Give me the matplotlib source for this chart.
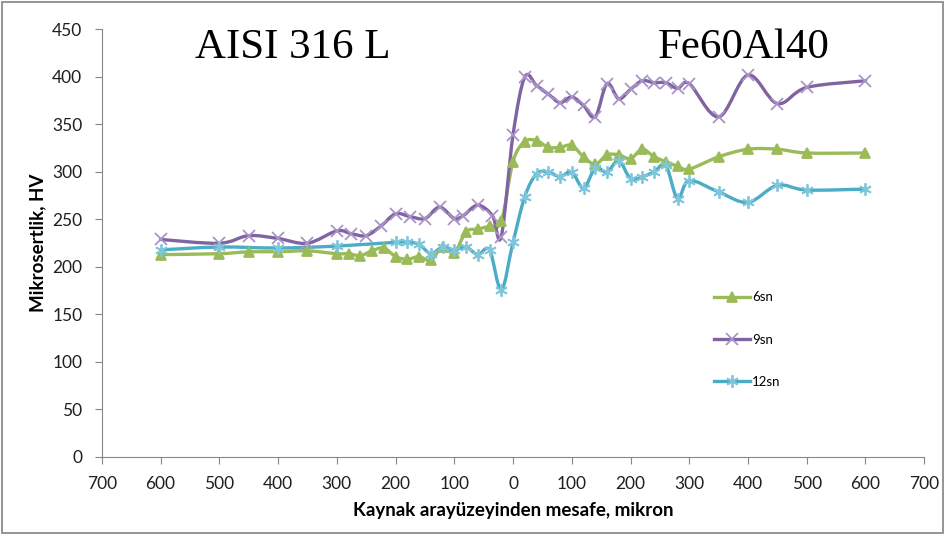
import numpy as np
import matplotlib
matplotlib.use("Agg")
import matplotlib.pyplot as plt
from matplotlib.path import Path
from matplotlib.patches import PathPatch, Rectangle
from matplotlib.lines import Line2D
from matplotlib.ticker import FuncFormatter

# distance from the weld interface (negative = AISI 316 L side)
x_6sn = [-600, -500, -450, -400, -350, -300, -280, -260, -240, -220, -200, -180, -160, -140,
         -120, -100, -80, -60, -40, -20, 0, 20, 40, 60, 80, 100, 120, 140, 160, 180, 200,
         220, 240, 260, 280, 300, 350, 400, 450, 500, 600]
hv_6sn = [213, 214, 216, 216, 217, 214, 214, 212, 217, 220, 211, 208, 211, 207,
          221, 215, 237, 240, 243, 248, 311, 332, 333, 326, 326, 328, 316, 308, 318, 318, 314,
          324, 316, 311, 306, 303, 316, 324, 324, 320, 320]

x_9sn = [-600, -500, -450, -400, -350, -300, -275, -250, -225, -200, -175, -150, -125, -100,
         -85, -60, -35, -20, 0, 20, 40, 60, 80, 100, 120, 140, 160, 180, 200, 220, 240,
         260, 280, 300, 350, 400, 450, 500, 600]
hv_9sn = [229, 225, 233, 230, 225, 238, 235, 233, 243, 256, 253, 251, 263, 251,
          254, 265, 254, 232, 339, 400, 391, 382, 373, 379, 370, 358, 393, 377, 387, 396, 394,
          394, 388, 393, 358, 402, 372, 389, 396]

x_12sn = [-600, -500, -400, -300, -200, -180, -160, -140, -120, -100, -80, -60, -40, -20, 0,
          20, 40, 60, 80, 100, 120, 140, 160, 180, 200, 220, 240, 260, 280, 300, 350, 400,
          450, 500, 600]
hv_12sn = [218, 221, 220, 222, 226, 226, 224, 214, 221, 218, 221, 213, 218, 176, 226,
           274, 298, 300, 295, 300, 283, 304, 300, 312, 293, 295, 300, 307, 272, 291, 279, 268,
           286, 281, 282]

labels = ["6sn", "9sn", "12sn"]


def smooth_path(xs, ys):
    # Excel-like smoothed line: cubic bezier through every point
    p = np.column_stack([xs, ys]).astype(float)
    ext = np.vstack([p[0], p, p[-1]])
    verts = [p[0]]
    codes = [Path.MOVETO]
    for i in range(len(p) - 1):
        c1 = ext[i + 1] + (ext[i + 2] - ext[i]) / 6.0
        c2 = ext[i + 2] - (ext[i + 3] - ext[i + 1]) / 6.0
        verts += [c1, c2, p[i + 1]]
        codes += [Path.CURVE4] * 3
    return Path(verts, codes)


fig = plt.figure(figsize=(9.46, 5.35), dpi=100)
ax = fig.add_axes([0.1076, 0.1458, 0.8694, 0.7991])

series = [
    (x_6sn, hv_6sn, "#9BBB59", "#9BBB59", "^", 7),
    (x_9sn, hv_9sn, "#8064A2", "#A994C8", "x", 8),
    (x_12sn, hv_12sn, "#4BACC6", "#7FC6DA", (6, 2, 0), 9),
]
handles = []
for (xs, ys, lc, mc, mk, ms), lab in zip(series, labels):
    ax.add_patch(PathPatch(smooth_path(xs, ys), fill=False, edgecolor=lc, lw=2.4,
                           capstyle="round", joinstyle="round"))
    ax.plot(xs, ys, ls="none", marker=mk, ms=ms, color=mc, mec=mc, mew=1.3)
    handles.append(Line2D([], [], color=lc, lw=2.4, marker=mk, ms=ms, mfc=mc, mec=mc, mew=1.3))

ax.set_xlim(-700, 700)
ax.set_ylim(0, 450)
ax.set_xticks(np.arange(-700, 701, 100))
ax.set_yticks(np.arange(0, 451, 50))
ax.xaxis.set_major_formatter(FuncFormatter(lambda v, pos: f"{abs(int(v))}"))

for s in ["top", "right"]:
    ax.spines[s].set_visible(False)
for s in ["left", "bottom"]:
    ax.spines[s].set_color("#868686")
ax.tick_params(direction="out", length=5, color="#868686", labelsize=12.5,
               labelcolor="#1f1f1f")
ax.tick_params(axis="x", pad=9)
ax.tick_params(axis="y", pad=9)
for t in ax.get_xticklabels() + ax.get_yticklabels():
    t.set_family("Lato")

ax.set_xlabel("Kaynak arayüzeyinden mesafe, mikron", family="Lato", fontweight="bold",
              fontsize=13.5, labelpad=7)
ax.set_ylabel("Mikrosertlik, HV", family="Lato", fontweight="bold", fontsize=13.5,
              labelpad=4)

fig.text(0.309, 0.911, "AISI 316 L", family="Liberation Serif", fontsize=31,
         ha="center", va="center")
fig.text(0.7865, 0.911, "Fe60Al40", family="Liberation Serif", fontsize=31,
         ha="center", va="center")

leg = fig.legend(handles, labels, loc="upper left", bbox_to_anchor=(0.748, 0.468),
                 frameon=False, labelspacing=2.3, handlelength=2.7, handletextpad=0.15,
                 borderpad=0, prop={"family": "Lato", "size": 9.5})

fig.add_artist(Rectangle((0.002, 0.003), 0.995, 0.993, transform=fig.transFigure,
                         fill=False, edgecolor="#8c8c8c", lw=1.3))

fig.savefig("out.png", dpi=100)
